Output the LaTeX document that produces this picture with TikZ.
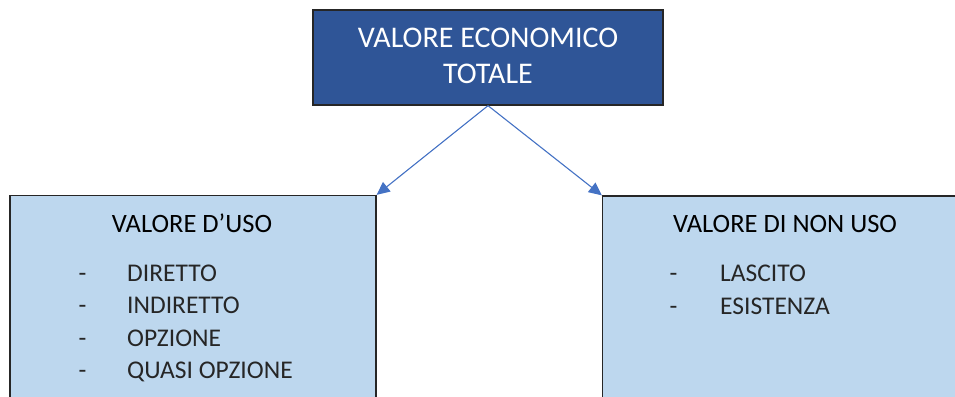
\documentclass[tikz,border=0pt]{standalone}
\usepackage{fontspec}
\setmainfont{Carlito}
\usetikzlibrary{arrows.meta}
\definecolor{darkblue}{HTML}{2F5597}
\definecolor{lightblue}{HTML}{BDD7EE}
\definecolor{arrowblue}{HTML}{4472C4}
\definecolor{edgegray}{HTML}{262626}
\begin{document}
\begin{tikzpicture}[x=1pt,y=-1pt,
  topbox/.style={draw=edgegray,line width=1.3pt,fill=darkblue,minimum width=350pt,minimum height=95pt,inner sep=0pt},
  subbox/.style={draw=edgegray,line width=1.3pt,fill=lightblue,minimum width=#1,minimum height=230pt,inner sep=0pt},
  toptext/.style={anchor=base,text=white,font=\fontsize{30}{36}\selectfont},
  titletext/.style={anchor=base,text=black,font=\fontsize{26.5}{32}\selectfont},
  itemtext/.style={anchor=base west,text=black!85,font=\fontsize{25.5}{30}\selectfont,inner sep=0pt},
  dashtext/.style={anchor=base,text=black!85,font=\fontsize{25.5}{30}\selectfont,inner sep=0pt},
  conn/.style={draw=arrowblue,line width=1.1pt,-{Triangle[length=13pt,width=12pt]}}]
\clip (0,0) rectangle (955,396);
\useasboundingbox (0,0) rectangle (955,396);
\node[topbox] (top) at (488,57.5) {};
\node[toptext] (t1) at (488,48) {VALORE ECONOMICO};
\node[toptext] (t2) at (488,83) {TOTALE};
\node[subbox=366pt] (uso) at (193,310.5) {};
\node[subbox=360pt] (nonuso) at (782.5,311) {};
\node[titletext] (usot) at (192,232) {VALORE D’USO};
\node[titletext] (nonusot) at (785,232) {VALORE DI NON USO};
\foreach \y/\t [count=\i] in {281/DIRETTO,313.5/INDIRETTO,346/OPZIONE,378.5/QUASI OPZIONE}{
  \node[dashtext] (ud\i) at (82.5,\y) {-};
  \node[itemtext] (ui\i) at (127,\y) {\t};
}
\foreach \y/\t [count=\i] in {281/LASCITO,314/ESISTENZA}{
  \node[dashtext] (nd\i) at (673.5,\y) {-};
  \node[itemtext] (ni\i) at (720,\y) {\t};
}
\draw[conn] (top.south) -- (uso.north east);
\draw[conn] (top.south) -- (nonuso.north west);
\end{tikzpicture}
\end{document}
